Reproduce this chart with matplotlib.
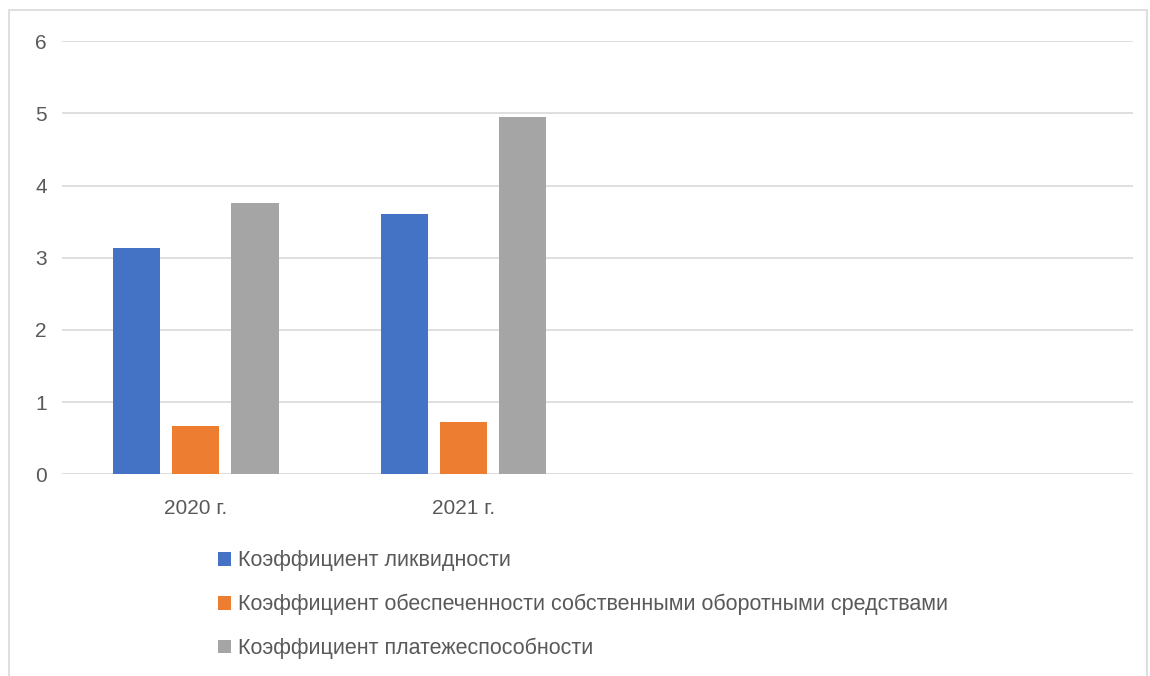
import numpy as np
import matplotlib
matplotlib.use("Agg")
import matplotlib.pyplot as plt
from matplotlib.patches import Rectangle

# данные с диаграммы
categories = ["2020 г.", "2021 г.", "", ""]
liquidity = [3.14, 3.61]
own_funds = [0.67, 0.72]
solvency = [3.76, 4.95]
series_names = [
    "Коэффициент ликвидности",
    "Коэффициент обеспеченности собственными оборотными средствами",
    "Коэффициент платежеспособности",
]
colors = ["#4472C4", "#ED7D31", "#A5A5A5"]

plt.rcParams["font.family"] = ["Liberation Sans", "DejaVu Sans"]

fig = plt.figure(figsize=(11.5, 6.76), dpi=100)
fig.patches.append(Rectangle((9 / 1150, -0.01), 1138 / 1150, (676 - 10) / 676 + 0.01,
                             transform=fig.transFigure, fill=False,
                             edgecolor="#D9D9D9", linewidth=1.2))
ax = fig.add_axes([62 / 1150, 1 - 474.3 / 676, (1133 - 62) / 1150, (474.3 - 41.3) / 676])

x = np.arange(len(categories))
width = 0.176
step = 0.221
for i, (vals, name, c) in enumerate(zip([liquidity, own_funds, solvency], series_names, colors)):
    ax.bar(x[:len(vals)] + (i - 1) * step, vals, width, color=c, label=name, zorder=3)

ax.set_xlim(-0.5, len(categories) - 0.5)
ax.set_ylim(0, 6)
ax.set_yticks(range(7))
ax.set_xticks(x)
ax.set_xticklabels(categories)
ax.grid(axis="y", color="#D9D9D9", linewidth=1.2, zorder=0)
for s in ax.spines.values():
    s.set_visible(False)
ax.tick_params(length=0, labelsize=15, colors="#595959")
ax.tick_params(axis="y", pad=11)
ax.tick_params(axis="x", pad=18)

leg = fig.legend(loc="upper center", bbox_to_anchor=(583 / 1150, 1 - 531 / 676),
                 ncol=1, frameon=False, fontsize=15.5, handlelength=0.6,
                 handleheight=0.6, handletextpad=0.35, labelspacing=1.05)
for t in leg.get_texts():
    t.set_color("#595959")

fig.savefig("out.png", dpi=100)
